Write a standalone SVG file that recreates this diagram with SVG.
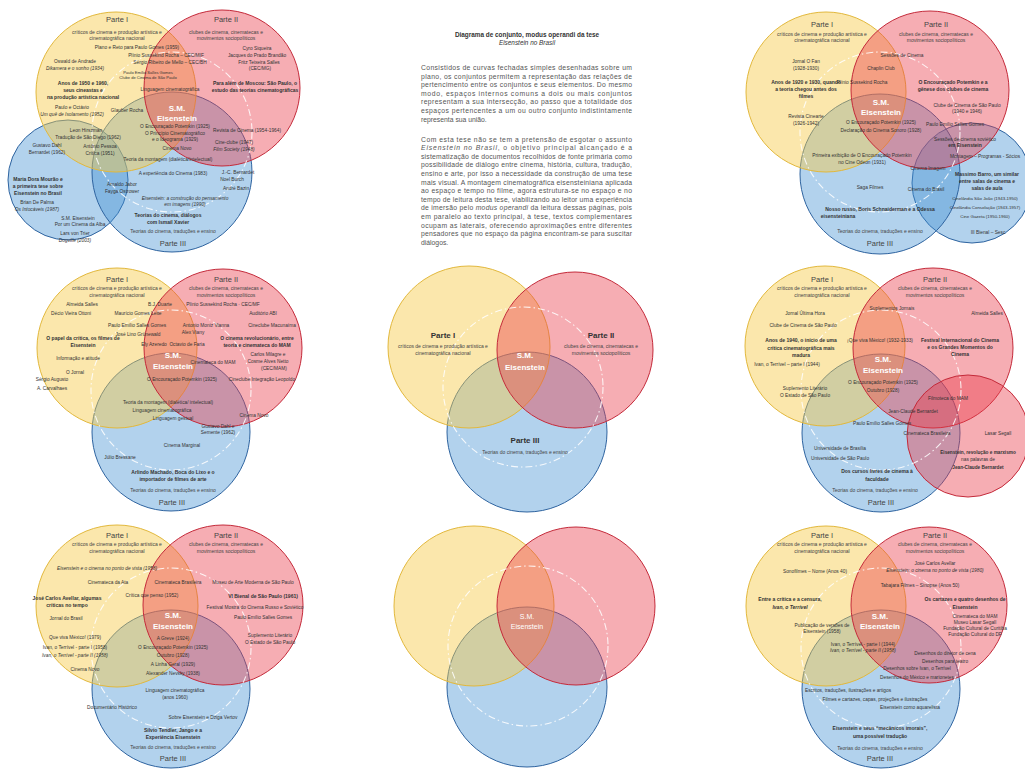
<svg xmlns="http://www.w3.org/2000/svg" width="1025" height="769" viewBox="0 0 1025 769">
<style>
.y{fill:#f7c948;fill-opacity:.45;stroke:#e2b83c;stroke-width:1}
.r{fill:#ea3b4a;fill-opacity:.42;stroke:#c42a3a;stroke-width:1}
.b{fill:#3f8fd2;fill-opacity:.4;stroke:#2f64a0;stroke-width:1}
.d{fill:none;stroke:#fff;stroke-width:1.1;stroke-dasharray:7 3 1.5 3;opacity:.85}
text{font-family:"Liberation Sans",Arial,sans-serif;fill:#333;text-anchor:middle}
.p{font-size:7.5px;fill:#444}
.pb{font-size:8px;font-weight:bold;fill:#333}
.s{font-size:5px;fill:#444}
.i{font-size:4.8px}
.k{font-size:4.1px}
.n{font-size:4.4px}
.bi{font-size:5px;font-weight:bold}
.it{font-style:italic}
.e{font-size:8px;font-weight:bold;fill:#fff}
.tx{font-size:6.8px;text-anchor:start;fill:#555}
.tt{font-size:6.4px;font-weight:bold;fill:#333}
</style>
<rect width="1025" height="769" fill="#fff"/>

<g id="panel-top-left">
<g id="tl-circles">
<circle class="b" cx="68" cy="180" r="60"/>
<circle class="b" cx="172" cy="172" r="80"/>
<circle class="y" cx="116" cy="92" r="80"/>
<circle class="r" cx="222" cy="88" r="78"/>
<circle class="d" cx="172" cy="132" r="80"/>
</g>
<text class="p" x="117" y="22">Parte I</text>
<text class="s" x="117" y="34">críticos de cinema e produção artística e</text>
<text class="s" x="117" y="40">cinematográfica nacional</text>
<text class="p" x="226" y="22">Parte II</text>
<text class="s" x="226" y="34">clubes de cinema, cinematecas e</text>
<text class="s" x="226" y="40">movimentos sociopolíticos</text>
<text class="i" x="137" y="49">Plano e Reto para Paulo Gomes (1959)</text>
<text class="i" x="166" y="57">Plínio Sussekind Rocha – CEC/MIF</text>
<text class="i" x="170" y="64">Sérgio Ribeiro de Mello – CEC/BH</text>
<text class="i" x="257" y="50">Cyro Siqueira</text>
<text class="i" x="257" y="57">Jacques do Prado Brandão</text>
<text class="i" x="259" y="64">Fritz Teixeira Salles</text>
<text class="i" x="260" y="70">(CEC/MG)</text>
<text class="bi" x="255" y="85">Para além de Moscou: São Paulo, o</text>
<text class="bi" x="255" y="92">estudo das teorias cinematográficas</text>
<text class="i" x="75" y="63">Oswald de Andrade</text>
<text class="i it" x="75" y="70">Dikamera e o sonho (1934)</text>
<text class="k" x="148" y="74">Paulo Emílio Salles Gomes</text>
<text class="k" x="148" y="79">Clube de Cinema de São Paulo</text>
<text class="bi" x="83" y="85">Anos de 1950 e 1960,</text>
<text class="bi" x="83" y="92">seus cineastas e</text>
<text class="bi" x="83" y="99">na produção artística nacional</text>
<text class="i" x="170" y="91">Linguagem cinematográfica</text>
<text class="i" x="72" y="109">Paulo e Octávio</text>
<text class="i it" x="72" y="116">Um quê de Isolamento (1952)</text>
<text class="i" x="127" y="112">Glauber Rocha</text>
<text class="e" x="177" y="111">S.M.</text>
<text class="e" x="177" y="121">Eisenstein</text>
<text class="i" x="175" y="128">O Encouraçado Potemkin (1925)</text>
<text class="i" x="175" y="135">O Princípio Cinematográfico</text>
<text class="i" x="175" y="141">e o Ideograma (1929)</text>
<text class="i" x="247" y="132">Revista de Cinema (1954-1964)</text>
<text class="i" x="86" y="132">Leon Hirszman</text>
<text class="i" x="88" y="139">Tradução de São Diego (1962)</text>
<text class="i" x="234" y="144">Cine-clube (1947)</text>
<text class="i it" x="234" y="151">Film Society (1948)</text>
<text class="i" x="47" y="147">Gustavo Dahl</text>
<text class="i" x="47" y="154">Bernardet (1962)</text>
<text class="i" x="100" y="148">Antônio Pessoa</text>
<text class="i" x="100" y="155">Crítica (1951)</text>
<text class="i" x="177" y="150">Cinema Novo</text>
<text class="i" x="168" y="161">Teoria da montagem (dialética/intelectual)</text>
<text class="i" x="173" y="175">A experiência do Cinema (1983)</text>
<text class="i" x="238" y="174">J.-C. Bernardet</text>
<text class="i" x="232" y="181">Noel Burch</text>
<text class="i" x="236" y="190">André Bazin</text>
<text class="bi" x="38" y="181">Maria Dora Mourão e</text>
<text class="bi" x="38" y="188">a primeira tese sobre</text>
<text class="bi" x="38" y="195">Eisenstein no Brasil</text>
<text class="i" x="122" y="186">Arnaldo Jabor</text>
<text class="i" x="122" y="193">Fayga Ostrower</text>
<text class="i it" x="185" y="200">Eisenstein: a construção do pensamento</text>
<text class="i it" x="185" y="206">em imagens (1990)</text>
<text class="i" x="37" y="204">Brian De Palma</text>
<text class="i it" x="37" y="211">Os Intocáveis (1987)</text>
<text class="bi" x="168" y="217">Teorias do cinema, diálogos</text>
<text class="bi" x="168" y="224">com Ismail Xavier</text>
<text class="i" x="78" y="220">S.M. Eisenstein</text>
<text class="i" x="80" y="226">Por um Cinema da Alba</text>
<text class="i" x="75" y="235">Lars von Trier</text>
<text class="i it" x="75" y="242">Dogville (2003)</text>
<text class="s" x="173" y="233">Teorias do cinema, traduções e ensino</text>
<text class="p" x="173" y="246">Parte III</text>
</g>

<g id="panel-text">
<text class="tt" x="527" y="37">Diagrama de conjunto, modus operandi da tese</text>
<text class="tt it" x="527" y="45" style="font-weight:normal">Eisenstein no Brasil</text>
<text class="tx" x="421" y="70" textLength="211" lengthAdjust="spacing">Consistidos de curvas fechadas simples desenhadas sobre um</text>
<text class="tx" x="421" y="78.6" textLength="211" lengthAdjust="spacing">plano, os conjuntos permitem a representação das relações de</text>
<text class="tx" x="421" y="87.2" textLength="211" lengthAdjust="spacing">pertencimento entre os conjuntos e seus elementos. Do mesmo</text>
<text class="tx" x="421" y="95.8" textLength="211" lengthAdjust="spacing">modo, espaços internos comuns a dois ou mais conjuntos</text>
<text class="tx" x="421" y="104.4" textLength="211" lengthAdjust="spacing">representam a sua intersecção, ao passo que a totalidade dos</text>
<text class="tx" x="421" y="113" textLength="211" lengthAdjust="spacing">espaços pertencentes a um ou outro conjunto indistintamente</text>
<text class="tx" x="421" y="121.6">representa sua união.</text>
<text class="tx" x="421" y="141.5" textLength="211" lengthAdjust="spacing">Com esta tese não se tem a pretensão de esgotar o assunto</text>
<text class="tx" x="421" y="150.1" textLength="211" lengthAdjust="spacing"><tspan font-style="italic">Eisenstein no Brasil</tspan>, o objetivo principal alcançado é a</text>
<text class="tx" x="421" y="158.7" textLength="211" lengthAdjust="spacing">sistematização de documentos recolhidos de fonte primária como</text>
<text class="tx" x="421" y="167.3" textLength="211" lengthAdjust="spacing">possibilidade de diálogo entre cinema, história, cultura, tradução,</text>
<text class="tx" x="421" y="175.9" textLength="211" lengthAdjust="spacing">ensino e arte, por isso a necessidade da construção de uma tese</text>
<text class="tx" x="421" y="184.5" textLength="211" lengthAdjust="spacing">mais visual. A montagem cinematográfica eisensteiniana aplicada</text>
<text class="tx" x="421" y="193.1" textLength="211" lengthAdjust="spacing">ao espaço e tempo no filme, agora estrutura-se no espaço e no</text>
<text class="tx" x="421" y="201.7" textLength="211" lengthAdjust="spacing">tempo de leitura desta tese, viabilizando ao leitor uma experiência</text>
<text class="tx" x="421" y="210.3" textLength="211" lengthAdjust="spacing">de imersão pelo <tspan font-style="italic">modus operandi</tspan> da leitura dessas páginas, pois</text>
<text class="tx" x="421" y="218.9" textLength="211" lengthAdjust="spacing">em paralelo ao texto principal, à tese, textos complementares</text>
<text class="tx" x="421" y="227.5" textLength="211" lengthAdjust="spacing">ocupam as laterais, oferecendo aproximações entre diferentes</text>
<text class="tx" x="421" y="236.1" textLength="211" lengthAdjust="spacing">pensadores que no espaço da página encontram-se para suscitar</text>
<text class="tx" x="421" y="244.7">diálogos.</text>
</g>

<g id="panel-top-right">
<g id="tr-circles">
<circle class="b" cx="972" cy="183" r="60"/>
<circle class="b" cx="880" cy="174" r="80"/>
<circle class="y" cx="826" cy="92" r="80"/>
<circle class="r" cx="930" cy="90" r="79"/>
<circle class="d" cx="880" cy="132" r="80"/>
</g>
<text class="p" x="822" y="26.5">Parte I</text>
<text class="s" x="822" y="36">críticos de cinema e produção artística e</text>
<text class="s" x="822" y="42">cinematográfica nacional</text>
<text class="p" x="936" y="26.5">Parte II</text>
<text class="s" x="936" y="36">clubes de cinema, cinematecas e</text>
<text class="s" x="936" y="42">movimentos sociopolíticos</text>
<text class="i" x="902" y="57">Sessões de Cinema</text>
<text class="i" x="806" y="63">Jornal O Fan</text>
<text class="i" x="806" y="70">(1928-1930)</text>
<text class="i" x="881" y="70">Chaplin Club</text>
<text class="bi" x="806" y="84">Anos de 1920 e 1930, quando</text>
<text class="bi" x="806" y="91">a teoria chegou antes dos</text>
<text class="bi" x="806" y="98">filmes</text>
<text class="i" x="862" y="84">Plínio Sussekind Rocha</text>
<text class="bi" x="953" y="84">O Encouraçado Potemkin e a</text>
<text class="bi" x="953" y="91">gênese dos clubes de cinema</text>
<text class="i" x="967" y="107">Clube de Cinema de São Paulo</text>
<text class="i" x="967" y="113">(1940 e 1946)</text>
<text class="e" x="881" y="105">S.M.</text>
<text class="e" x="881" y="115">Eisenstein</text>
<text class="i" x="806" y="118">Revista Cinearte</text>
<text class="i" x="806" y="125">(1926-1942)</text>
<text class="i" x="881" y="124">O Encouraçado Potemkin (1925)</text>
<text class="i" x="881" y="132">Declaração do Cinema Sonoro (1928)</text>
<text class="i" x="955" y="126">Paulo Emílio Salles Gomes</text>
<text class="i" x="965" y="141">Sessões de cinema soviético</text>
<text class="bi" x="965" y="147">em Eisenstein</text>
<text class="i" x="985" y="158">Montagem – Programas - Sócios</text>
<text class="i" x="862" y="157">Primeira exibição de O Encouraçado Potemkin</text>
<text class="i" x="862" y="164">no Cine Odeon (1931)</text>
<text class="i" x="928" y="170">Cinema Imagem</text>
<text class="bi" x="987" y="176">Massimo Barro, um similar</text>
<text class="bi" x="987" y="183">entre salas de cinema e</text>
<text class="bi" x="987" y="190">salas de aula</text>
<text class="i" x="870" y="189">Saga Filmes</text>
<text class="i" x="926" y="191">Cinema do Brasil</text>
<text class="n" x="985" y="200">Cinelândia São João (1943-1950)</text>
<text class="n" x="985" y="209">Cinelândia Consolação (1943-1957)</text>
<text class="n" x="985" y="218">Cine Gazeta (1950-1960)</text>
<text class="bi" x="880" y="211">Nosso russo, Boris Schnaiderman e a Odessa</text>
<text class="bi" x="838" y="218">eisensteiniana</text>
<text class="i" x="988" y="234">III Bienal – Sesc</text>
<text class="s" x="880" y="233">Teorias do cinema, traduções e ensino</text>
<text class="p" x="880" y="246">Parte III</text>
</g>

<g id="panel-mid-left">
<g id="ml-circles">
<circle class="b" cx="171" cy="432" r="79"/>
<circle class="y" cx="117" cy="348" r="80"/>
<circle class="r" cx="223" cy="348" r="79"/>
<circle class="d" cx="171" cy="390" r="80"/>
</g>
<text class="p" x="117" y="281.5">Parte I</text>
<text class="s" x="117" y="290">críticos de cinema e produção artística e</text>
<text class="s" x="117" y="297">cinematográfica nacional</text>
<text class="p" x="226" y="281.5">Parte II</text>
<text class="s" x="226" y="290">clubes de cinema, cinematecas e</text>
<text class="s" x="226" y="297">movimentos sociopolíticos</text>
<text class="i" x="82" y="306">Almeida Salles</text>
<text class="i" x="160" y="306">B.J. Duarte</text>
<text class="i" x="223" y="306">Plínio Sussekind Rocha · CEC/MF</text>
<text class="i" x="71" y="315">Décio Vieira Ottoni</text>
<text class="i" x="138" y="315">Maurício Gomes Leite</text>
<text class="i" x="263" y="315">Auditório ABI</text>
<text class="i" x="137" y="327">Paulo Emílio Salles Gomes</text>
<text class="i" x="206" y="327">Antonio Moniz Vianna</text>
<text class="i" x="272" y="327">Cineclube Macunaíma</text>
<text class="i" x="138" y="336">José Lino Grünewald</text>
<text class="i" x="193" y="334">Alex Viany</text>
<text class="bi" x="83" y="340">O papel da crítica, os filmes de</text>
<text class="bi" x="83" y="347">Eisenstein</text>
<text class="i" x="154" y="346">Ely Azeredo</text>
<text class="i" x="187" y="346">Octavio de Faria</text>
<text class="bi" x="257" y="340">O cinema revolucionário, entre</text>
<text class="bi" x="257" y="347">teoria e cinemateca do MAM</text>
<text class="i" x="78" y="360">Informação e atitude</text>
<text class="e" x="173" y="358">S.M.</text>
<text class="e" x="173" y="369">Eisenstein</text>
<text class="i" x="213" y="364">Cinemateca do MAM</text>
<text class="i" x="268" y="356">Carlos Milagre e</text>
<text class="i" x="268" y="363">Cosme Alves Netto</text>
<text class="i" x="274" y="370">(CEC/MAM)</text>
<text class="i" x="75" y="374">O Jornal</text>
<text class="i" x="182" y="381">O Encouraçado Potemkin (1925)</text>
<text class="i" x="262" y="381">Cineclube Integração Leopoldo</text>
<text class="i" x="52" y="381">Sérgio Augusto</text>
<text class="i" x="52" y="390">A. Carvalhaes</text>
<text class="i" x="168" y="404">Teoria da montagem (dialética/ intelectual)</text>
<text class="i" x="162" y="412">Linguagem cinematográfica</text>
<text class="i" x="173" y="420">Linguagem gestual</text>
<text class="i" x="254" y="417">Cinema Novo</text>
<text class="i" x="218" y="428">Gustavo Dahl e</text>
<text class="i" x="218" y="434">Semente (1962)</text>
<text class="i" x="182" y="447">Cinema Marginal</text>
<text class="i" x="120" y="459">Júlio Bressane</text>
<text class="bi" x="173" y="474">Arlindo Machado, Boca do Lixo e o</text>
<text class="bi" x="173" y="481">importador de filmes de arte</text>
<text class="s" x="173" y="492">Teorias do cinema, traduções e ensino</text>
<text class="p" x="172" y="505">Parte III</text>
</g>

<g id="panel-mid-center">
<g id="mc-circles">
<circle class="b" cx="527" cy="432" r="80"/>
<circle class="y" cx="469" cy="347" r="81"/>
<circle class="r" cx="575" cy="350" r="78"/>
<circle class="d" cx="523" cy="387" r="80"/>
</g>
<text class="pb" x="443" y="338">Parte I</text>
<text class="s" x="443" y="347.5">críticos de cinema e produção artística e</text>
<text class="s" x="443" y="354.5">cinematográfica nacional</text>
<text class="pb" x="601" y="338">Parte II</text>
<text class="s" x="601" y="347.5">clubes de cinema, cinematecas e</text>
<text class="s" x="601" y="354.5">movimentos sociopolíticos</text>
<text class="e" x="525" y="358">S.M.</text>
<text class="e" x="525" y="370">Eisenstein</text>
<text class="pb" x="525" y="443">Parte III</text>
<text class="s" x="525" y="454">Teorias do cinema, traduções e ensino</text>
</g>

<g id="panel-mid-right">
<g id="mr-circles">
<circle class="b" cx="881" cy="433" r="79"/>
<circle class="y" cx="825" cy="346" r="80"/>
<circle class="r" cx="933" cy="348" r="80"/>
<circle class="r" cx="968" cy="436" r="61"/>
<circle class="d" cx="881" cy="390" r="80"/>
</g>
<text class="p" x="822" y="281.5">Parte I</text>
<text class="s" x="822" y="290">críticos de cinema e produção artística e</text>
<text class="s" x="822" y="297">cinematográfica nacional</text>
<text class="p" x="935" y="281.5">Parte II</text>
<text class="s" x="935" y="290">clubes de cinema, cinematecas e</text>
<text class="s" x="935" y="297">movimentos sociopolíticos</text>
<text class="i" x="892" y="310">Suplementos Jornais</text>
<text class="i" x="805" y="315">Jornal Última Hora</text>
<text class="i" x="987" y="315">Almeida Salles</text>
<text class="i" x="803" y="327">Clube de Cinema de São Paulo</text>
<text class="bi" x="801" y="342">Anos de 1940, o início de uma</text>
<text class="bi" x="801" y="350">crítica cinematográfica mais</text>
<text class="bi" x="801" y="357">madura</text>
<text class="i" x="880" y="342">¡Que viva México! (1932-1933)</text>
<text class="bi" x="960" y="342">Festival Internacional do Cinema</text>
<text class="bi" x="960" y="349">e os Grandes Momentos do</text>
<text class="bi" x="960" y="356">Cinema</text>
<text class="i" x="787" y="366">Ivan, o Terrível – parte I (1944)</text>
<text class="e" x="883" y="362">S.M.</text>
<text class="e" x="883" y="373">Eisenstein</text>
<text class="i" x="883" y="384">O Encouraçado Potemkin (1925)</text>
<text class="i" x="883" y="392">Outubro (1928)</text>
<text class="i" x="805" y="390">Suplemento Literário</text>
<text class="i" x="805" y="397">O Estado de São Paulo</text>
<text class="i" x="948" y="400">Filmoteca do MAM</text>
<text class="i" x="913" y="413">Jean-Claude Bernardet</text>
<text class="i" x="882" y="425">Paulo Emílio Salles Gomes</text>
<text class="i" x="927" y="435">Cinemateca Brasileira</text>
<text class="i" x="998" y="435">Lasar Segall</text>
<text class="i" x="840" y="450">Universidade de Brasília</text>
<text class="i" x="840" y="460">Universidade de São Paulo</text>
<text class="bi" x="877" y="473">Dos cursos livres de cinema à</text>
<text class="bi" x="877" y="481">faculdade</text>
<text class="bi" x="978" y="454" style="font-size:4.7px">Eisenstein, revolução e marxismo</text>
<text class="i" x="978" y="461">nas palavras de</text>
<text class="bi" x="978" y="469" style="font-size:4.7px">Jean-Claude Bernardet</text>
<text class="s" x="875" y="492">Teorias do cinema, traduções e ensino</text>
<text class="p" x="881" y="505">Parte III</text>
</g>

<g id="panel-bottom-left">
<g id="bl-circles">
<circle class="b" cx="171" cy="689" r="79"/>
<circle class="y" cx="117" cy="606" r="81"/>
<circle class="r" cx="223" cy="605" r="80"/>
<circle class="d" cx="171" cy="648" r="80"/>
</g>
<text class="p" x="117" y="537.5">Parte I</text>
<text class="s" x="117" y="546">críticos de cinema e produção artística e</text>
<text class="s" x="117" y="553">cinematográfica nacional</text>
<text class="p" x="226" y="537.5">Parte II</text>
<text class="s" x="226" y="546">clubes de cinema, cinematecas e</text>
<text class="s" x="226" y="553">movimentos sociopolíticos</text>
<text class="i it" x="107" y="570">Eisenstein e o cinema no ponto de vista (1958)</text>
<text class="i" x="108" y="584">Cinemateca da Ata</text>
<text class="i" x="178" y="584">Cinemateca Brasileira</text>
<text class="i" x="253" y="584">Museu de Arte Moderna de São Paulo</text>
<text class="i" x="152" y="597">Crítica que penso (1952)</text>
<text class="bi" x="67" y="600">José Carlos Avellar, algumas</text>
<text class="bi" x="67" y="607">críticas no tempo</text>
<text class="bi" x="263" y="598">VI Bienal de São Paulo (1961)</text>
<text class="i" x="255" y="609">Festival Mostra do Cinema Russo e Soviético</text>
<text class="i" x="263" y="619">Paulo Emílio Salles Gomes</text>
<text class="i" x="66" y="620">Jornal do Brasil</text>
<text class="e" x="173" y="618">S.M.</text>
<text class="e" x="173" y="629">Eisenstein</text>
<text class="i" x="270" y="637">Suplemento Literário</text>
<text class="i" x="270" y="644">O Estado de São Paulo</text>
<text class="i" x="75" y="639">Que viva México! (1979)</text>
<text class="i" x="75" y="649">Ivan, o Terrível - parte I (1958)</text>
<text class="i it" x="75" y="657">Ivan, o Terrível - parte II (1958)</text>
<text class="i" x="173" y="640">A Greve (1924)</text>
<text class="i" x="173" y="649">O Encouraçado Potemkin (1925)</text>
<text class="i" x="173" y="657">Outubro (1928)</text>
<text class="i" x="173" y="666">A Linha Geral (1929)</text>
<text class="i" x="173" y="675">Alexander Nevsky (1938)</text>
<text class="i" x="85" y="671">Cinema Novo</text>
<text class="i" x="175" y="692">Linguagem cinematográfica</text>
<text class="i" x="175" y="699">(anos 1960)</text>
<text class="i" x="112" y="709">Documentário Histórico</text>
<text class="i" x="203" y="719">Sobre Eisenstein e Dziga Vertov</text>
<text class="bi" x="173" y="732">Sílvio Tendler, Jango e a</text>
<text class="bi" x="173" y="739">Experiência Eisenstein</text>
<text class="s" x="173" y="749">Teorias do cinema, traduções e ensino</text>
<text class="p" x="173" y="761">Parte III</text>
</g>

<g id="panel-bottom-center">
<g id="bc-circles">
<circle class="b" cx="527" cy="687" r="80"/>
<circle class="y" cx="474" cy="606" r="80"/>
<circle class="r" cx="576" cy="606" r="79"/>
<circle class="d" cx="528" cy="646" r="80"/>
</g>
<text class="e" x="527" y="619" style="font-size:7px;font-weight:normal">S.M.</text>
<text class="e" x="527" y="629" style="font-size:7px;font-weight:normal">Eisenstein</text>
</g>

<g id="panel-bottom-right">
<g id="br-circles">
<circle class="b" cx="881" cy="689" r="79"/>
<circle class="y" cx="826" cy="606" r="80"/>
<circle class="r" cx="929" cy="605" r="78"/>
<circle class="d" cx="881" cy="648" r="80"/>
</g>
<text class="p" x="822" y="537.5">Parte I</text>
<text class="s" x="822" y="546">críticos de cinema e produção artística e</text>
<text class="s" x="822" y="553">cinematográfica nacional</text>
<text class="p" x="935" y="537.5">Parte II</text>
<text class="s" x="935" y="546">clubes de cinema, cinematecas e</text>
<text class="s" x="935" y="553">movimentos sociopolíticos</text>
<text class="i" x="935" y="565">José Carlos Avellar</text>
<text class="i it" x="935" y="572">Eisenstein: o cinema no ponto de vista (1980)</text>
<text class="i" x="815" y="573">Sonofilmes – Nome (Anos 40)</text>
<text class="i" x="920" y="587">Tabajara Filmes – Sinopse (Anos 50)</text>
<text class="bi" x="790" y="601">Entre a crítica e a censura,</text>
<text class="bi it" x="790" y="609">Ivan, o Terrível</text>
<text class="bi" x="965" y="601">Os cartazes e quatro desenhos de</text>
<text class="bi" x="965" y="609">Eisenstein</text>
<text class="i" x="975" y="618">Cinemateca do MAM</text>
<text class="i" x="975" y="624">Museu Lasar Segall</text>
<text class="i" x="975" y="630">Fundação Cultural de Curitiba</text>
<text class="i" x="975" y="636">Fundação Cultural do DF</text>
<text class="i" x="822" y="627">Publicação de versões de</text>
<text class="i" x="822" y="633">Eisenstein (1958)</text>
<text class="e" x="880" y="619">S.M.</text>
<text class="e" x="880" y="629">Eisenstein</text>
<text class="i" x="863" y="646">Ivan, o Terrível - parte I (1944)</text>
<text class="i it" x="863" y="652">Ivan, o Terrível - parte II (1958)</text>
<text class="i" x="945" y="655">Desenhos do diretor de cena</text>
<text class="i" x="945" y="663">Desenhos para teatro</text>
<text class="i" x="917" y="670">Desenhos sobre Ivan, o Terrível</text>
<text class="i" x="917" y="679">Desenhos do México e marionetes</text>
<text class="i" x="848" y="692">Escritos, traduções, ilustrações e artigos</text>
<text class="i" x="875" y="701">Filmes e cartazes, capas, projeções e ilustrações</text>
<text class="i" x="910" y="709">Eisenstein como aquarelista</text>
<text class="bi" x="880" y="730">Eisenstein e seus “mecânicos imorais”,</text>
<text class="bi" x="880" y="738">uma possível tradução</text>
<text class="s" x="880" y="750">Teorias do cinema, traduções e ensino</text>
<text class="p" x="880" y="761">Parte III</text>
</g>
</svg>
